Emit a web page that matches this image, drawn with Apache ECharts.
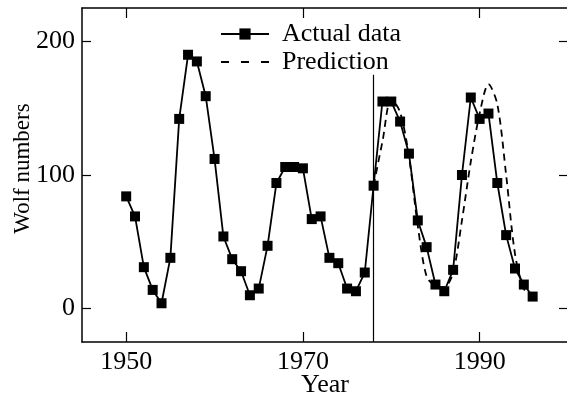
<!DOCTYPE html>
<html>
<head>
<meta charset="utf-8">
<title>Wolf numbers</title>
<script src="https://cdn.jsdelivr.net/npm/echarts@6/dist/echarts.min.js"></script>
<style>
  html, body { margin: 0; padding: 0; background: #fff; }
  #chart { width: 567px; height: 398px; }
</style>
</head>
<body>
<div id="chart"></div>
<script>
// Yearly mean Wolf (sunspot) numbers
const actualYears = [1950, 1951, 1952, 1953, 1954, 1955, 1956, 1957, 1958, 1959,
  1960, 1961, 1962, 1963, 1964, 1965, 1966, 1967, 1968, 1969,
  1970, 1971, 1972, 1973, 1974, 1975, 1976, 1977, 1978, 1979,
  1980, 1981, 1982, 1983, 1984, 1985, 1986, 1987, 1988, 1989,
  1990, 1991, 1992, 1993, 1994, 1995, 1996];
const actualValues = [84, 69, 31, 14, 4, 38, 142, 190, 185, 159,
  112, 54, 37, 28, 10, 15, 47, 94, 106, 106,
  105, 67, 69, 38, 34, 15, 13, 27, 92, 155,
  155, 140, 116, 66, 46, 18, 13, 29, 100, 158,
  142, 146, 94, 55, 30, 18, 9];

// Model prediction from the split year onward
const predictionYears = [1978, 1979, 1980, 1981, 1982, 1983, 1984, 1985, 1986, 1987,
  1988, 1989, 1990, 1991, 1992, 1993, 1994, 1995, 1996];
const predictionValues = [92, 125, 157, 147, 114, 62, 24, 17, 16, 27,
  66, 110, 146, 168, 153, 100, 41, 15, 8];

// Start of the prediction interval
const splitYear = 1978;
const splitLineTop = 175;

const xTicks = [1950, 1970, 1990];
const yTicks = [0, 100, 200];
const xRange = [1945, 2000];
const yRange = [-25, 225];

const FONT = 'Liberation Serif';
const FONT_SIZE = 26;
const INK = '#000';

function zip(xs, ys) { return xs.map((x, i) => [x, ys[i]]); }

const axisLineStyle = { show: true, onZero: false, lineStyle: { color: INK, width: 1.5 } };
const plain = v => String(v);

function xAxisDef(pos, labels) {
  return {
    type: 'value', position: pos, min: xRange[0], max: xRange[1],
    axisLine: axisLineStyle,
    axisTick: { show: true, inside: true, length: 10, customValues: xTicks, lineStyle: { color: INK, width: 1.2 } },
    axisLabel: { show: labels, customValues: xTicks, formatter: plain, color: INK, fontFamily: FONT, fontSize: FONT_SIZE, margin: 7 },
    splitLine: { show: false },
    name: labels ? 'Year' : '', nameLocation: 'middle', nameGap: 30, nameMoveOverlap: false,
    nameTextStyle: { color: INK, fontFamily: FONT, fontSize: FONT_SIZE }
  };
}

function yAxisDef(pos, labels) {
  return {
    type: 'value', position: pos, min: yRange[0], max: yRange[1],
    axisLine: axisLineStyle,
    axisTick: { show: true, inside: true, length: 9, customValues: yTicks, lineStyle: { color: INK, width: 1.2 } },
    axisLabel: { show: labels, customValues: yTicks, formatter: plain, color: INK, fontFamily: FONT, fontSize: FONT_SIZE, margin: 7 },
    splitLine: { show: false },
    name: labels ? 'Wolf numbers' : '', nameLocation: 'middle', nameGap: 48, nameMoveOverlap: false,
    nameTextStyle: { color: INK, fontFamily: FONT, fontSize: 23, padding: [0, 0, 0, 13] }
  };
}

const chart = echarts.init(document.getElementById('chart'), null, { renderer: 'canvas' });
chart.setOption({
  animation: false,
  backgroundColor: '#fff',
  grid: { left: 82, top: 8, width: 486, height: 334, containLabel: false, outerBoundsMode: 'none' },
  legend: {
    orient: 'vertical', left: 215, top: 16,
    itemWidth: 48, itemHeight: 14, itemGap: 2,
    textStyle: { color: INK, fontFamily: FONT, fontSize: FONT_SIZE, padding: [0, 0, 0, 8] },
    data: [
      { name: 'Actual data' },
      { name: 'Prediction', itemStyle: { opacity: 0 }, lineStyle: { type: [8, 12], width: 1.8 } }
    ]
  },
  xAxis: [xAxisDef('bottom', true), xAxisDef('top', false)],
  yAxis: [yAxisDef('left', true), yAxisDef('right', false)],
  series: [
    {
      name: 'Actual data', type: 'line',
      data: zip(actualYears, actualValues),
      symbol: 'rect', symbolSize: 10,
      itemStyle: { color: INK },
      lineStyle: { color: INK, width: 1.8 },
      z: 3,
      markLine: {
        silent: true, symbol: 'none', label: { show: false },
        lineStyle: { color: INK, width: 1.2, type: 'solid' },
        data: [[{ coord: [splitYear, splitLineTop] }, { coord: [splitYear, yRange[0]] }]]
      }
    },
    {
      name: 'Prediction', type: 'line',
      data: zip(predictionYears, predictionValues),
      symbol: 'none', smooth: 0.3,
      itemStyle: { color: INK },
      lineStyle: { color: INK, width: 1.8, type: [7, 5] },
      z: 2
    }
  ]
});
</script>
</body>
</html>
